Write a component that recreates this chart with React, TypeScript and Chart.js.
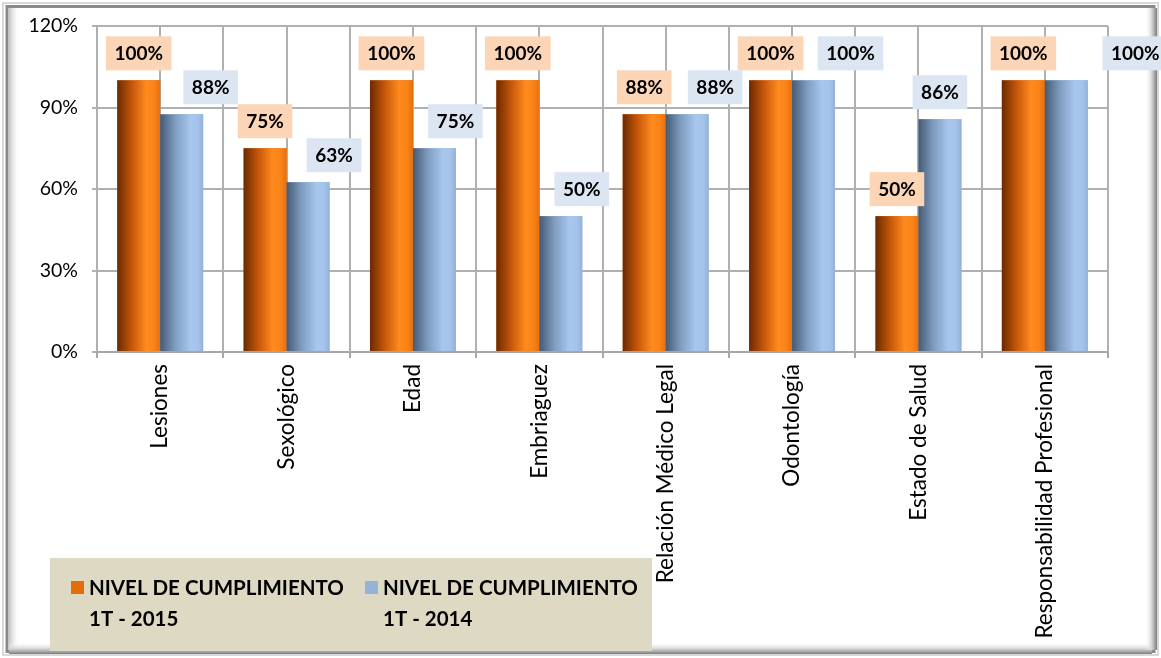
import { useEffect, useRef } from "react";
import { Chart, registerables } from "chart.js";

Chart.register(...registerables);

const categories = [
  "Lesiones",
  "Sexológico",
  "Edad",
  "Embriaguez",
  "Relación Médico Legal",
  "Odontología",
  "Estado de Salud",
  "Responsabilidad Profesional",
];
const cumplimiento2015 = [100, 75, 100, 100, 87.5, 100, 50, 100];
const cumplimiento2014 = [87.5, 62.5, 75, 50, 87.5, 100, 85.7, 100];
const seriesLabels = [
  ["NIVEL DE CUMPLIMIENTO", "1T - 2015"],
  ["NIVEL DE CUMPLIMIENTO", "1T - 2014"],
];
const yMax = 120;
const yStep = 30;

const FONT = "Lato, 'Open Sans', sans-serif";
const ORANGE = "#e46c0a";
const BLUE = "#95b3d7";

export default function App() {
  const ref = useRef<HTMLCanvasElement | null>(null);

  useEffect(() => {
    const canvas = ref.current;
    if (!canvas) return;

    const framePlugin = {
      id: "frame",
      beforeDraw(chart: any) {
        const { ctx, width, height } = chart;
        ctx.save();
        ctx.fillStyle = "#ffffff";
        ctx.fillRect(0, 0, width, height);
        ctx.strokeStyle = "#d9d9d9";
        ctx.lineWidth = 2;
        ctx.strokeRect(3, 3, width - 6, height - 6);
        ctx.strokeStyle = "#8a8a8a";
        ctx.lineWidth = 3;
        ctx.strokeRect(7, 6.5, width - 14, height - 13);
        let g = ctx.createLinearGradient(9, 0, 20, 0);
        g.addColorStop(0, "#c4c4c4");
        g.addColorStop(1, "rgba(255,255,255,0)");
        ctx.fillStyle = g;
        ctx.fillRect(9, 8, 11, height - 18);
        g = ctx.createLinearGradient(0, height - 16, 0, height - 4);
        g.addColorStop(0, "rgba(255,255,255,0)");
        g.addColorStop(0.6, "#cfcfcf");
        g.addColorStop(1, "#7d7d7d");
        ctx.fillStyle = g;
        ctx.fillRect(9, height - 16, width - 18, 12);
        g = ctx.createLinearGradient(width - 16, 0, width - 4, 0);
        g.addColorStop(0, "rgba(255,255,255,0)");
        g.addColorStop(0.6, "#cfcfcf");
        g.addColorStop(1, "#7d7d7d");
        ctx.fillStyle = g;
        ctx.fillRect(width - 16, 8, 12, height - 16);
        ctx.restore();
      },
    };

    const vGridPlugin = {
      id: "vgrid",
      beforeDatasetsDraw(chart: any) {
        const { ctx, chartArea } = chart;
        const xs = chart.scales.x;
        const n = categories.length;
        const half = xs.width / n / 2;
        ctx.save();
        ctx.strokeStyle = "#b0b0b0";
        ctx.lineWidth = 2;
        const xsPix: number[] = [];
        for (let i = 0; i < n; i++) {
          const c = xs.getPixelForValue(i);
          xsPix.push(c - half, c);
          if (i === n - 1) xsPix.push(c + half);
        }
        xsPix.forEach((x) => {
          ctx.beginPath();
          ctx.moveTo(Math.round(x), chartArea.top);
          ctx.lineTo(Math.round(x), chartArea.bottom);
          ctx.stroke();
        });
        ctx.restore();
      },
    };

    const barGradientPlugin = {
      id: "barGradient",
      afterDatasetsDraw(chart: any) {
        const { ctx } = chart;
        const stops = [
          [
            [0, "#6a2a02"],
            [0.35, "#c7580a"],
            [0.68, "#ff8a1e"],
            [0.85, "#fb8419"],
            [1, "#e7700f"],
          ],
          [
            [0, "#455a73"],
            [0.35, "#7f9cc0"],
            [0.7, "#a8c7ee"],
            [0.88, "#a5c3ea"],
            [1, "#93b2d9"],
          ],
        ];
        chart.data.datasets.forEach((_: any, di: number) => {
          const meta = chart.getDatasetMeta(di);
          meta.data.forEach((el: any) => {
            const { x, y, base, width } = el.getProps(["x", "y", "base", "width"], true);
            const l = x - width / 2;
            const g = ctx.createLinearGradient(l, 0, l + width, 0);
            (stops[di] as any[]).forEach(([o, c]) => g.addColorStop(o, c));
            ctx.fillStyle = g;
            ctx.fillRect(l, y, width, base - y);
          });
        });
      },
    };

    const labelPlugin = {
      id: "boxLabels",
      afterDatasetsDraw(chart: any, _args: any, opts: any) {
        const { ctx } = chart;
        ctx.save();
        ctx.font = `bold 19px ${FONT}`;
        ctx.textAlign = "center";
        ctx.textBaseline = "middle";
        chart.data.datasets.forEach((ds: any, di: number) => {
          const meta = chart.getDatasetMeta(di);
          meta.data.forEach((el: any, i: number) => {
            const { x, y } = el.getProps(["x", "y"], true);
            const text = Math.round(ds.data[i]) + "%";
            const w = ctx.measureText(text).width + 17;
            const h = 34;
            const cx = x + (opts.shift[di][i] || 0);
            const bottom = y - 10;
            ctx.fillStyle = opts.bg[di];
            ctx.fillRect(cx - w / 2, bottom - h, w, h);
            ctx.fillStyle = "#000";
            ctx.fillText(text, cx, bottom - h / 2 + 1);
          });
        });
        ctx.restore();
      },
    };

    const legendPlugin = {
      id: "boxLegend",
      afterDraw(chart: any) {
        const { ctx } = chart;
        ctx.save();
        ctx.fillStyle = "#ddd9c3";
        ctx.fillRect(50, 558, 602, 93);
        const entries = [
          { x: 71, color: ORANGE, lines: seriesLabels[0] },
          { x: 365, color: BLUE, lines: seriesLabels[1] },
        ];
        ctx.font = `bold 20.5px ${FONT}`;
        ctx.textBaseline = "middle";
        ctx.textAlign = "left";
        entries.forEach((e) => {
          ctx.fillStyle = e.color;
          ctx.fillRect(e.x, 581, 13, 13);
          ctx.fillStyle = "#000";
          ctx.fillText(e.lines[0], e.x + 18, 588);
          ctx.fillText(e.lines[1], e.x + 18, 619);
        });
        ctx.restore();
      },
    };

    const chart = new Chart(canvas, {
      type: "bar",
      data: {
        labels: categories,
        datasets: [
          {
            label: seriesLabels[0].join(" "),
            data: cumplimiento2015,
            backgroundColor: ORANGE,
            borderWidth: 0,
            barPercentage: 1,
            categoryPercentage: 0.68,
          },
          {
            label: seriesLabels[1].join(" "),
            data: cumplimiento2014,
            backgroundColor: BLUE,
            borderWidth: 0,
            barPercentage: 1,
            categoryPercentage: 0.68,
          },
        ],
      },
      options: {
        animation: false,
        responsive: false,
        devicePixelRatio: 1,
        layout: { padding: { top: 26, right: 53, bottom: 0, left: 0 } },
        plugins: {
          legend: { display: false },
          tooltip: { enabled: false },
          title: { display: false },
          boxLabels: {
            bg: ["#fbd5b5", "#dce6f2"],
            shift: [
              [0, 0, 0, 0, 0, 0, 0, 0],
              [29, 26, 21, 21, 28, 37, 0, 69],
            ],
          },
        } as any,
        scales: {
          x: {
            offset: true,
            grid: {
              display: true,
              offset: true,
              drawOnChartArea: false,
              drawTicks: true,
              tickLength: 6,
              color: "#a6a6a6",
              lineWidth: 2,
            },
            border: { display: true, color: "#a6a6a6", width: 2 },
            ticks: {
              maxRotation: 90,
              minRotation: 90,
              autoSkip: false,
              padding: 6,
              color: "#000",
              font: { family: FONT, size: 22.5 },
            },
            afterFit(scale: any) {
              scale.height = 306;
            },
          },
          y: {
            min: 0,
            max: yMax,
            grid: {
              color: "#b0b0b0",
              lineWidth: 2,
              drawTicks: true,
              tickLength: 5,
            },
            border: { display: true, color: "#a6a6a6", width: 2 },
            ticks: {
              stepSize: yStep,
              padding: 14,
              color: "#000",
              font: { family: FONT, size: 19.5 },
              callback: (v: any) => v + "%",
            },
            afterFit(scale: any) {
              scale.width = 97;
            },
          },
        },
      },
      plugins: [framePlugin, vGridPlugin, barGradientPlugin, labelPlugin, legendPlugin],
    });

    return () => chart.destroy();
  }, []);

  return (
    <div style={{ position: "fixed", left: 0, top: 0, width: 1161, height: 658 }}>
      <canvas ref={ref} width={1161} height={658} style={{ display: "block" }} />
    </div>
  );
}
